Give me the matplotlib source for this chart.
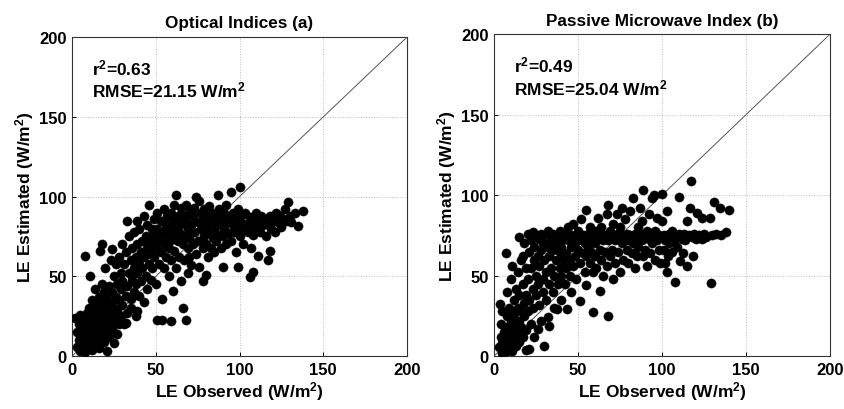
import matplotlib
matplotlib.use("Agg")
import matplotlib.pyplot as plt
import numpy as np

plt.rcParams['font.family'] = ['Liberation Sans', 'DejaVu Sans']
plt.rcParams['font.weight'] = 'bold'
plt.rcParams['mathtext.fontset'] = 'custom'
plt.rcParams['mathtext.rm'] = 'Liberation Sans:bold'
plt.rcParams['mathtext.it'] = 'Liberation Sans:bold'
plt.rcParams['mathtext.bf'] = 'Liberation Sans:bold'

# ---------------- data: panel (a) optical indices ----------------
opt_pts = [
    (2,24),(3,6),(3,15),(4,10),(4,20),(5,3),(5,13),(5,26),(6,8),(6,18),(7,22),(7,12),(8,2.5),(8,63),(8,16),(9,9),(9,27),(9,5),
    (10,20),(10,12),(10,30),(11,50),(11,7),(11,24),(12,16),(12,35),(12,4),(13,27),(13,11),(13,20),(14,32),(14,8),(14,42),(15,18),
    (15,25),(15,14),(16,37),(16,22),(16,5),(17,66),(17,29),(17,12),(18,70),(18,19),(18,45),(18,33),(19,9),(19,26),(19,40),
    (20,16),(20,30),(20,55),(21,3),(21,22),(21,36),(22,44),(22,12),(22,28),(23,60),(23,19),(23,33),(24,67),(24,17),(24,40),(24,25),
    (25,50),(25,8),(25,30),(26,22),(26,37),(26,58),(27,45),(27,14),(27,28),(28,35),(28,62),(28,20),(29,42),(29,52),(29,25),
    (30,32),(30,70),(30,47),(31,20),(31,58),(32,38),(32,21),(32,65),(33,85),(33,44),(33,27),(34,52),(34,75),(35,36),(35,60),(35,30),
    (36,48),(36,68),(37,40),(37,78),(37,55),(38,25),(38,62),(38,45),(39,85),(39,28),(39,70),(39,52),
    (40,58),(40,38),(40,80),(41,65),(41,47),(42,72),(42,55),(43,34),(43,88),(43,62),(44,50),(44,75),(45,68),(45,42),(45,82),(46,95),
    (46,58),(46,73),(47,64),(47,48),(48,80),(48,70),(48,55),(49,86),(49,62),(49,76),
    (50,68),(50,45),(51,22.5),(51,80),(51,90),(52,73),(52,58),(53,85),(53,65),(54,22.5),(54,36),(54,78),(55,92),(55,70),(55,55),
    (56,82),(56,62),(57,75),(57,88),(58,50),(58,68),(58,80),(59,22),(59,90),(59,73),(59,60),
    (60,41),(60,85),(60,76),(61,66),(61,95),(62,101),(62,80),(62,55),(63,72),(63,88),(64,62),(64,78),(65,93),(65,83),(65,47),(66,30),
    (66,70),(66,88),(67,75),(67,60),(68,22.5),(68,85),(68,95),(69,68),(69,80),(69,52),
    (70,90),(70,74),(70,62),(71,82),(71,57),(72,88),(72,70),(73,78),(73,93),(74,100),(74,64),(75,84),(75,72),(76,97),(76,56),(77,80),
    (77,90),(78,47),(78,68),(78,86),(79,75),(79,92),
    (80,51),(80,82),(80,70),(81,88),(81,62),(82,78),(82,94),(83,85),(83,68),(84,74),(84,90),(85,80),(85,65),(86,88),(86,72),(87,101),
    (87,84),(88,76),(88,92),(89,68),(89,82),
    (90,56),(90,86),(90,75),(91,90),(91,80),(92,70),(92,95),(93,84),(93,77),(94,88),(95,103),(95,72),(96,82),(96,90),(97,78),(98,86),
    (98,65),(99,56),(99,80),(99,92),
    (100,106),(100,84),(100,75),(101,88),(102,80),(102,70),(103,90),(104,83),(105,78),(106,49.5),(106,87),(107,68),(107,82),(108,53),
    (108,76),(109,86),(109,80),
    (110,90),(111,63),(111,84),(112,78),(113,88),(114,82),(115,86),(116,75),(117,60),(117,84),(118,66),(118,88),(119,80),
    (120,85),(121,78),(122,90),(123,84),(124,88),(125,81),(126,86),(127,92),(128,85),(129,96.5),(130,88),(131,84),(133,90),(135,81.5),(138,91),
]
opt_obs = [p[0] for p in opt_pts]
opt_est = [p[1] for p in opt_pts]

# ---------------- data: panel (b) passive microwave index ----------------
pmw_pts = [
    (3,5.6),(3.6,32.5),(4,12),(4,20),(5,8),(5,2),(5,28),(6,15),(6,4),(7,10),(7,64),(7.7,25),(8,3),(8,18),(8,40),(9,6),(9,13),(9,30),
    (10,22),(10,8),(10,48),(11,56),(11,15),(11,3),(12,35),(12,11),(12,26),(13,19),(13,42),(13,6),(14,30),(14,14),(14,52),(15,74),
    (15,22),(15,38),(15,9),(16,18),(16,28),(16,60),(17,62),(17,45),(17,12),(18,33),(18,25),(18,70),(19,4),(19,38),(19,16),(19,55),
    (20,76),(20,48),(20,28),(21,4.4),(21,65),(21,35),(22,72),(22,20),(22,55),(23,42),(23,77),(23,30),(24,60),(24,68),(24,12),(25,50),
    (25,75),(25,38),(26,17),(26,62),(26,45),(27,73),(27,32),(27,56),(28,22),(28,66),(28,76),(29,48),(29,40),(29,70),
    (30,6),(30,60),(30,75),(31,52),(31,35),(32,24),(32,68),(32,78),(33,19),(33,45),(33,62),(34,72),(34,55),(35,40),(35,66),(35,76),
    (36,50),(36,30),(37,70),(37,60),(37.5,29),(38,74),(38,45),(39,55),(39,65),(39,78),
    (40,68),(40,50),(40,35),(41,73),(41,60),(42,76),(42,45),(43,64),(43.5,29),(43,55),(44,72),(44,80),(45,60),(45,50),(46,40),(46,75),
    (46,68),(47,56),(47,82),(48,70),(48,62),(49,74),(49,48),
    (50,66),(50,78),(51,34),(51,58),(52,72),(52,85),(53,64),(53,75),(54,52),(54,70),(55,44),(55,90.6),(55,62),(56,76),(56,68),(57,58),
    (57,80),(58,72),(58,65),(59,27.5),(59,52),(59,75),
    (60,70),(60,62),(61,78),(61,55),(62,73),(62,86),(63,40.6),(63,66),(63,75),(64,60),(64,80),(65,72),(65,50),(66,75),(66,65),(67,88),
    (67,56),(68,25),(68,94),(68,72),(69,62),(69,78),
    (70,74),(70,66),(71,48),(71,82),(72,72),(72,58),(73,76),(73,88),(74,65),(74,74),(75,52),(75,80),(76,70),(76,92),(77,75),(77,60),
    (78,73),(78,85),(79,66),(79,76),
    (80,72),(80,58),(81,90),(81,75),(82,64),(82,74),(83,98),(83,70),(84,76),(84,55),(85,62),(85,73),(86,80),(86,68),(87,75),(87,92),
    (88,84),(88,72),(89,103),(89,62),(89,76),
    (90,74),(90,66),(91,78),(91,56),(92,73),(92,88),(93,64),(93,76),(94,98),(94,70),(95,100),(95,74),(96,60),(96,78),(97,72),(97,86),
    (98,66),(98,75),(99,74),(99,58),
    (100,100.6),(100,84),(101,75),(101,66),(102,72),(102,58),(103,90),(103,52.5),(103.5,62),(104,76),(104,70),(105,74),(106,65),(106,78),
    (107,72),(108,46),(108,75),(109,68),(110,99),(110,76),
    (111,59),(112,73),(112.5,64),(113,76),(114,72),(115,56),(115,84),(116,75),(116.7,92),(117,109),(118,74),(118.5,62.5),(119,76),
    (120,73),(121,89),(122,75),(123,74),(124,73),(124,85.6),(125,76),(126,74),(128.5,85.6),(129,45.6),(130,75),(131,96),(132,76),
    (134.5,92),(135,75),(138,77),(140,90.6),
]
pmw_obs = [p[0] for p in pmw_pts]
pmw_est = [p[1] for p in pmw_pts]

titles = ["Optical Indices (a)", "Passive Microwave Index (b)"]
stats_r2 = ["0.63", "0.49"]
stats_rmse = ["21.15", "25.04"]
ticks = [0, 50, 100, 150, 200]

fig = plt.figure(figsize=(8.45, 4.10), dpi=100)
axes = [fig.add_axes([0.0852, 0.129, 0.3965, 0.778]),
        fig.add_axes([0.5846, 0.129, 0.3976, 0.785])]

datasets = [(opt_obs, opt_est), (pmw_obs, pmw_est)]
for ax, (xo, ye), title, r2, rmse in zip(axes, datasets, titles, stats_r2, stats_rmse):
    ax.set_xlim(0, 200)
    ax.set_ylim(0, 200)
    ax.set_xticks(ticks)
    ax.set_yticks(ticks)
    ax.grid(True, linestyle=':', color='#bbbbbb', linewidth=0.7)
    ax.set_axisbelow(True)
    ax.plot([0, 200], [0, 200], color='#555555', linewidth=0.7, zorder=3)
    ax.scatter(xo, ye, s=44, color='black', edgecolors='black', linewidths=0.3, zorder=4)
    ax.tick_params(direction='in', length=3, labelsize=12, width=0.7, pad=4)
    for lab in ax.get_xticklabels() + ax.get_yticklabels():
        lab.set_fontweight('bold')
    for sp in ax.spines.values():
        sp.set_linewidth(0.8)
        sp.set_color('#333333')
    ax.set_title(title, fontsize=12.3, fontweight='bold', pad=7)
    ax.set_xlabel(r"LE Observed (W/m$^2$)", fontsize=12.5, fontweight='bold', labelpad=2)
    ax.set_ylabel(r"LE Estimated (W/m$^2$)", fontsize=12.5, fontweight='bold', labelpad=2)
    ax.text(12, 181, r"r$^2$=" + r2, fontsize=12.5, fontweight='bold', va='center')
    ax.text(12, 167, r"RMSE=" + rmse + r" W/m$^2$", fontsize=12.5, fontweight='bold', va='center')

fig.savefig("out.png", dpi=100, facecolor='white')
